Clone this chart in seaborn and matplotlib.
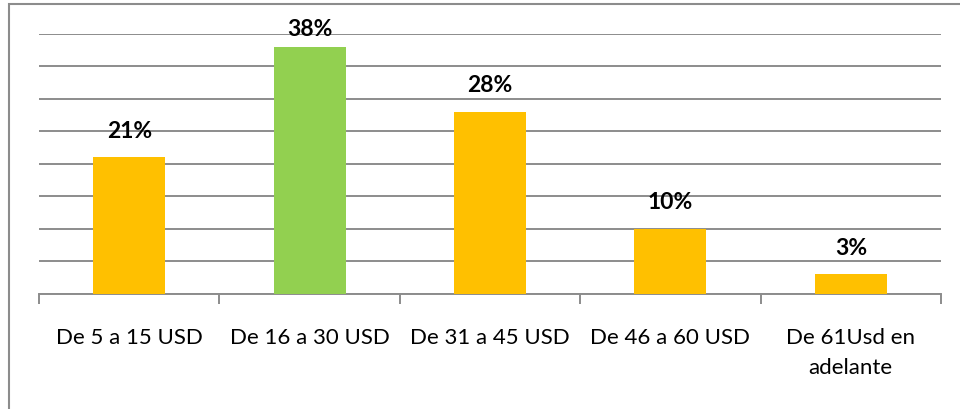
import matplotlib
matplotlib.use('Agg')
import matplotlib.pyplot as plt
import seaborn as sns
import pandas as pd
from matplotlib.patches import Rectangle

# data
categories = ["De 5 a 15 USD", "De 16 a 30 USD", "De 31 a 45 USD",
              "De 46 a 60 USD", "De 61Usd en\nadelante"]
values = [21, 38, 28, 10, 3]
bar_colors = ["#FFC000", "#92D050", "#FFC000", "#FFC000", "#FFC000"]

df = pd.DataFrame({"rango": categories, "pct": values})

sns.set_theme(style="white")
plt.rcParams['font.family'] = ['Lato', 'DejaVu Sans']

fig = plt.figure(figsize=(9.6, 4.09), dpi=100)
ax = fig.add_axes([39 / 960, 1 - 293.7 / 409, 902 / 960, 260 / 409])

sns.barplot(data=df, x="rango", y="pct", hue="rango", palette=bar_colors,
            legend=False, width=0.4, saturation=1, linewidth=0, ax=ax, zorder=3)

ax.set_ylim(0, 40)
ax.set_xlim(-0.5, len(categories) - 0.5)
ax.set_yticks(range(0, 41, 5))
ax.set_yticklabels([])
ax.tick_params(axis='y', length=0)
ax.yaxis.grid(True, color="#8c8c8c", linewidth=1.4)
ax.set_axisbelow(True)

for side in ["left", "right", "top"]:
    ax.spines[side].set_visible(False)
ax.spines["bottom"].set_color("#8c8c8c")
ax.spines["bottom"].set_linewidth(1.4)

# category separators as outward tick marks
ax.set_xticks([i - 0.5 for i in range(len(categories) + 1)], minor=True)
ax.tick_params(axis='x', which='minor', length=7, width=1.4, color="#8c8c8c",
               direction='out', bottom=True)
ax.tick_params(axis='x', which='major', length=0, pad=25, labelsize=16,
               labelcolor="black")
for t in ax.get_xticklabels():
    t.set_linespacing(1.6)
ax.set_xlabel("")
ax.set_ylabel("")

for i, cont in enumerate(ax.containers):
    lbls = ax.bar_label(cont, fmt="%d%%", padding=11, fontsize=16.5,
                        fontweight="bold", color="black")
    if values[i] == max(values):
        for t in lbls:
            t.xyann = (0, 5)

# outer chart frame
fig.patches.append(Rectangle((9 / 960, -0.1), 1.2, 1 - 4 / 409 + 0.1,
                             transform=fig.transFigure, fill=False,
                             edgecolor="#8c8c8c", linewidth=1.5))

fig.savefig("out.png", dpi=100, facecolor="white")
